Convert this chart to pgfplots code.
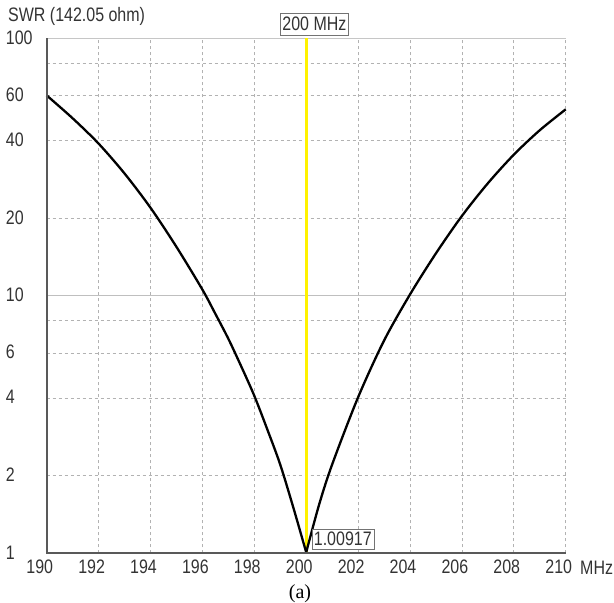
\documentclass[border=0pt]{standalone}
\usepackage{fontspec}
\setmainfont{Liberation Sans}[FakeStretch=0.82]
\newfontfamily\serifa{Liberation Serif}
\usepackage{pgfplots}
\pgfplotsset{compat=1.18}
\begin{document}
\begin{tikzpicture}
\path[use as bounding box] (-46.7bp,-49.7bp) rectangle (567.3bp,553.3bp);
\begin{axis}[at={(0,0)}, anchor=south west, scale only axis,
 width=519bp, height=515bp,
 xmin=190, xmax=210, ymode=log, ymin=1, ymax=100,
 xtick={190,192,...,210},
 xticklabels={190,192,194,196,198,200,202,204,206,208,210},
 ytick={1,2,4,6,10,20,40,60,100},
 yticklabels={1,2,4,6,10,20,40,60,100},
 minor ytick={8,80}, minor xtick={},
 major tick length=0pt, minor tick length=0pt,
 xmajorgrids, ymajorgrids, yminorgrids,
 major grid style={gray!60, line width=0.8bp, dash pattern=on 3bp off 3bp},
 minor grid style={gray!60, line width=0.8bp, dash pattern=on 3bp off 3bp},
 axis line style={draw=none},
 ticklabel style={font=\fontsize{19.5bp}{22bp}\selectfont, text=black!80},
 xticklabel style={xshift=-7bp, inner sep=0pt, yshift=-6.5bp},
 yticklabel style={anchor=west, inner sep=0pt, xshift=-41bp, yshift=1bp},
 clip=false,
]
% 10-line solid
\draw[gray!50, line width=1bp] (axis cs:190,10) -- (axis cs:210,10);
% top border
\draw[gray!45, line width=1bp] (rel axis cs:0,1) -- (rel axis cs:1,1);
% marker line
\addplot[color=yellow, line width=3bp] coordinates {(200,1) (200,100)};
% SWR curve, left branch
\addplot[black, line width=2.3bp, line join=round, smooth, tension=0.5] coordinates {
(190,60) (191,48.9) (192,39.0) (193,29.85) (194,21.98) (195,15.49)
(196,10.57) (196.5,8.51) (197,6.81) (197.5,5.31) (198,4.09) (198.5,3.03)
(199,2.21) (199.5,1.51) (200,1.009)
};
% SWR curve, right branch
\addplot[black, line width=2.3bp, line join=round, smooth, tension=0.5] coordinates {
(200,1.009) (200.5,1.549) (201,2.213) (202,4.036) (203,6.70)
(204,10.12) (205,14.62) (206,20.42) (207,27.35) (208,35.32) (209,43.95) (210,52.97)
};
% left and bottom axis lines
\draw[black!65, line width=2.2bp] (rel axis cs:0,1) -- (rel axis cs:0,0) -- (rel axis cs:1,0);
% labels
\node[draw=black!55, fill=white, inner xsep=2bp, inner ysep=0pt, minimum height=22bp,
  anchor=south west, font=\fontsize{19.5bp}{22bp}\selectfont, text=black!80]
  at (axis cs:200,100) [xshift=-26bp, yshift=3bp] {200 MHz};
\node[draw=black!55, fill=white, inner xsep=2bp, inner ysep=0pt, minimum height=20bp,
  anchor=south west, font=\fontsize{19.5bp}{22bp}\selectfont, text=black!80]
  at (axis cs:200,1) [xshift=5.5bp, yshift=4.3bp] {1.00917};
\end{axis}
\node[anchor=base west, inner sep=0pt, font=\fontsize{19.5bp}{22bp}\selectfont, text=black!80]
  at (-38.7bp,532bp) {SWR (142.05 ohm)};
\node[anchor=base west, inner sep=0pt, font=\fontsize{19.5bp}{22bp}\selectfont, text=black!80]
  at (533.3bp,-20.7bp) {MHz};
\node[anchor=base, inner sep=0pt, font=\serifa\fontsize{20bp}{22bp}\selectfont]
  at (253.3bp,-44.7bp) {(a)};
\end{tikzpicture}
\end{document}
